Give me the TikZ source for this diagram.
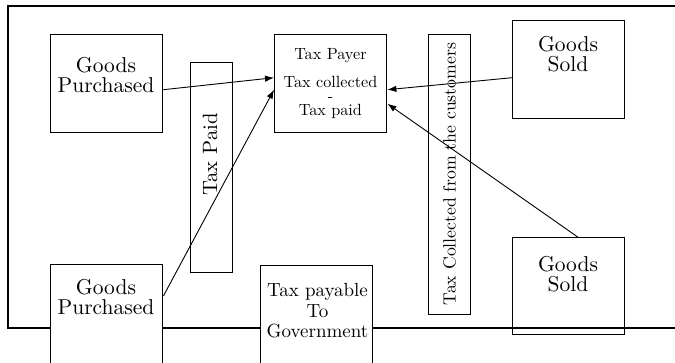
\documentclass[tikz,border=0pt]{standalone}
\usepackage{fontspec}
\setmainfont{lmroman10-regular.otf}
\usetikzlibrary{arrows.meta}
\begin{document}
\begin{tikzpicture}[x=1pt,y=-1pt,
  box/.style={draw,line width=1.4pt,inner sep=0pt,anchor=north west},
  lbl/.style={align=center,inner sep=0pt,font=\fontsize{21.5}{20}\selectfont},
  small/.style={align=center,inner sep=0pt,font=\fontsize{16.2}{14.2}\selectfont},
  vert/.style={rotate=90,inner sep=0pt},
  frame/.style={line width=1.3pt},
  arr/.style={line width=0.9pt,-{Latex[length=9pt,width=6.5pt]}}]
\useasboundingbox (0,0) rectangle (675,362);
% boxes
\node[box,minimum width=112pt,minimum height=98pt] (gp1) at (50,34) {};
\node[box,minimum width=42pt,minimum height=210pt] (tpd) at (190,62) {};
\node[box,minimum width=112pt,minimum height=98pt] (tp) at (274,34) {};
\node[box,minimum width=42pt,minimum height=280pt] (tcc) at (428,34) {};
\node[box,minimum width=112pt,minimum height=98pt] (gs1) at (512,20) {};
\node[box,minimum width=112pt,minimum height=97pt] (gs2) at (512,237) {};
\node[box,minimum width=112pt,minimum height=140pt] (gp2) at (50,264) {};
\node[box,minimum width=112pt,minimum height=140pt] (tg) at (260,265) {};
% frame
\coordinate (tl) at (8,6);
\coordinate (tr) at (675,6);
\coordinate (bl) at (8,328);
\coordinate (br) at (675,328);
\draw[frame] (tr) -- (tl) -- (bl) -- (bl -| gp2.west);
\draw[frame] (bl -| gp2.east) -- (bl -| tg.west);
\draw[frame] (bl -| tg.east) -- (br);
% labels
\node[lbl] (gp1t) at (106,75.2) {Goods\\Purchased};
\node[lbl] (gp2t) at (106,297.5) {Goods\\Purchased};
\node[lbl] (gs1t) at (568,54.2) {Goods\\Sold};
\node[lbl] (gs2t) at (568,274.2) {Goods\\Sold};
\node[lbl,font=\fontsize{19}{20.7}\selectfont] (tgt) at (317.5,310.8) {Tax payable\\To\\Government};
\node[small] (tpt) at (330.5,83.5) {Tax Payer\\[12.5pt]Tax collected\\-\\Tax paid};
\node[vert,font=\fontsize{20.7}{22}\selectfont] (tpdt) at (210,154.5) {Tax Paid};
\node[vert,font=\fontsize{17.7}{20}\selectfont] (tcct) at (449.5,174) {Tax Collected from the customers};
% arrows
\draw[arr] ([yshift=-6pt]gp1.east) -- ([yshift=6pt]tp.west);
\draw[arr] ([yshift=-32pt]gp2.north east) -- ([yshift=-6pt]tp.west);
\draw[arr] ([yshift=-8pt]gs1.west) -- ([yshift=-6pt]tp.east);
\draw[arr] ([xshift=9pt]gs2.north) -- ([yshift=-20pt]tp.east);
\end{tikzpicture}
\end{document}
